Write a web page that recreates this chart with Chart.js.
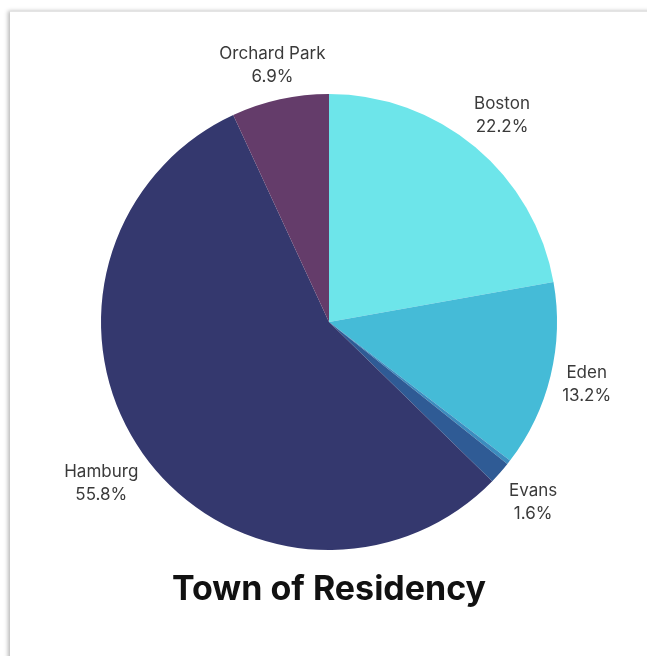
<!DOCTYPE html>
<html>
<head>
<meta charset="utf-8">
<script src="https://cdn.jsdelivr.net/npm/chart.js@4"></script>
<style>
  html, body { margin: 0; padding: 0; background: #ffffff; width: 647px; height: 656px; overflow: hidden; }
  .card {
    position: absolute; left: 10px; top: 11px; width: 660px; height: 680px;
    background: #ffffff;
    border-top: 1px solid #e4e4e4;
    box-shadow: -2px 0 4px rgba(0,0,0,0.28);
  }
  #chart { position: absolute; left: 0; top: 0; }
</style>
</head>
<body>
<div class="card"></div>
<canvas id="chart" width="647" height="656"></canvas>
<script>
// Residents by town, in percent, clockwise from 12 o'clock
const towns   = ['Boston', 'Eden', 'Other', 'Evans', 'Hamburg', 'Orchard Park'];
const shares  = [22.2, 13.2, 0.3, 1.6, 55.8, 6.9];
const colours = ['#6de5ea', '#45bbd7', '#3c8cbe', '#2f5b95', '#34386e', '#643c6a'];
const chartTitle = 'Town of Residency';

// Two-line labels (name + percent) placed just outside each slice
const outerLabels = {
  id: 'outerLabels',
  afterDatasetsDraw(chart) {
    const ctx = chart.ctx;
    const meta = chart.getDatasetMeta(0);
    const lineGap = 23;
    ctx.save();
    ctx.font = '400 17px Inter, "Noto Sans", sans-serif';
    ctx.fillStyle = '#3a3a3a';
    ctx.textAlign = 'center';
    ctx.textBaseline = 'middle';
    meta.data.forEach((arc, i) => {
      const v = shares[i];
      if (v < 1) return;
      const p = arc.getProps(['x', 'y', 'startAngle', 'endAngle', 'outerRadius'], true);
      const mid = (p.startAngle + p.endAngle) / 2;
      const dx = Math.cos(mid), dy = Math.sin(mid);
      const l1 = towns[i], l2 = v.toFixed(1) + '%';
      const w = Math.max(ctx.measureText(l1).width, ctx.measureText(l2).width);
      const h = lineGap + 22;
      const ext = Math.min(Math.abs(dx) > 1e-6 ? (w / 2) / Math.abs(dx) : Infinity,
                           Math.abs(dy) > 1e-6 ? (h / 2) / Math.abs(dy) : Infinity);
      const r = p.outerRadius + 12 + ext;
      const cx = p.x + dx * r, cy = p.y + dy * r;
      ctx.fillText(l1, cx, cy - lineGap / 2);
      ctx.fillText(l2, cx, cy + lineGap / 2);
    });
    ctx.restore();
  }
};

new Chart(document.getElementById('chart'), {
  type: 'pie',
  data: {
    labels: towns,
    datasets: [{
      data: shares,
      backgroundColor: colours,
      borderWidth: 0
    }]
  },
  options: {
    responsive: false,
    animation: false,
    layout: { padding: { left: 101, right: 90, top: 94, bottom: 0 } },
    plugins: {
      legend: { display: false },
      tooltip: { enabled: false },
      title: {
        display: true,
        text: chartTitle,
        position: 'bottom',
        color: '#111111',
        font: { family: 'Inter, "Noto Sans", sans-serif', size: 34, weight: '700', lineHeight: 1.2 },
        padding: { top: 19.6, bottom: 45.6 }
      }
    }
  },
  plugins: [outerLabels]
});
</script>
</body>
</html>
